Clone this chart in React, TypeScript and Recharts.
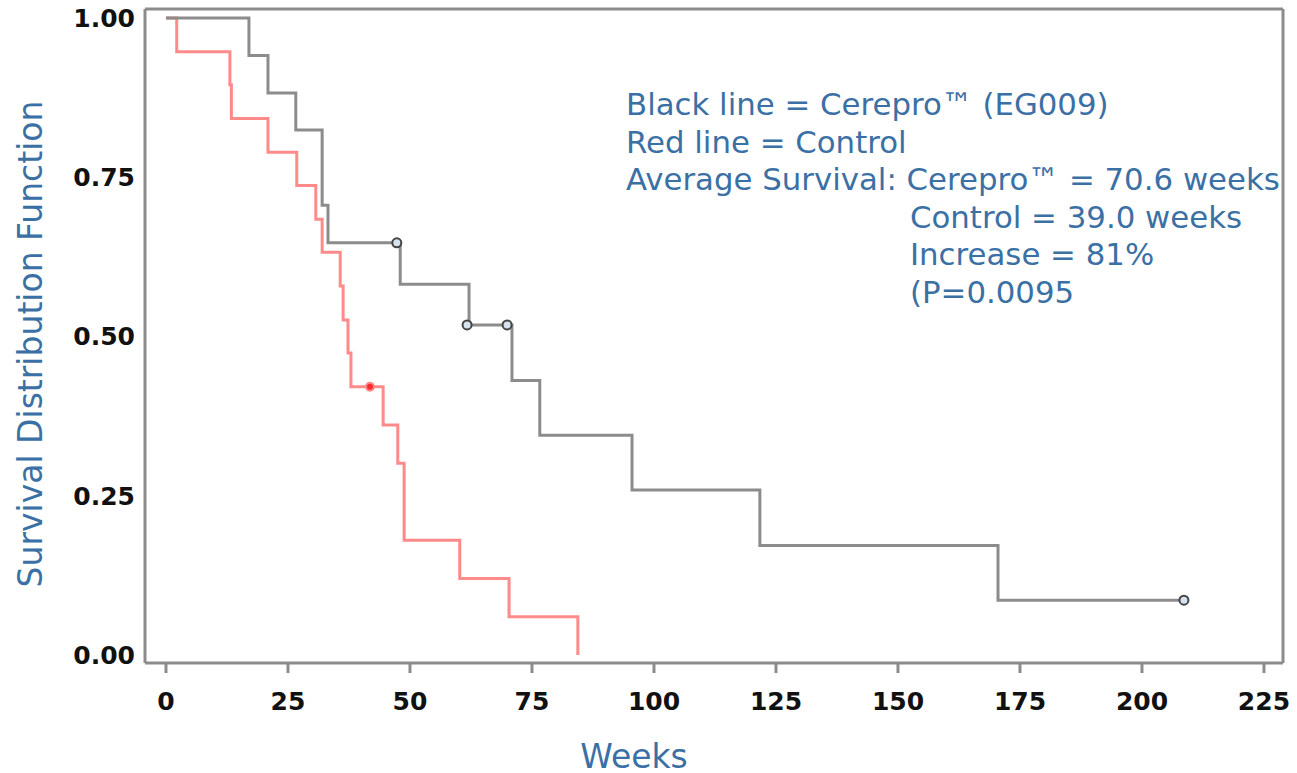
import React from "react";
import { ComposedChart, Line, Scatter, XAxis, YAxis, ReferenceLine } from "recharts";

// Kaplan-Meier steps
const cereproWeeks = [0, 17, 20.9, 26.6, 32, 33.2, 48, 62.1, 70.9, 76.6, 95.5, 121.7, 170.5, 208.6];
const cereproSurvival = [1.0, 0.941, 0.882, 0.824, 0.706, 0.647, 0.582, 0.518, 0.431, 0.345, 0.259, 0.172, 0.086, 0.086];

const controlWeeks = [0, 2.2, 13.1, 13.4, 20.9, 26.8, 30.7, 32, 35.7, 36.3, 37.3, 37.9, 44.5, 47.5, 48.8, 60.2, 70.3, 84.4];
const controlSurvival = [1.0, 0.947, 0.895, 0.842, 0.789, 0.737, 0.684, 0.632, 0.579, 0.526, 0.474, 0.421, 0.361, 0.301, 0.18, 0.12, 0.06, 0.0];

// censored observations
const cereproCensorWeeks = [47.3, 61.7, 69.9, 208.6];
const cereproCensorSurvival = [0.647, 0.518, 0.518, 0.086];
const controlCensorWeeks = [41.8];
const controlCensorSurvival = [0.421];

const weekTicks = [0, 25, 50, 75, 100, 125, 150, 175, 200, 225];
const survivalTicks = [0, 0.25, 0.5, 0.75, 1];

const legendLines = [
  "Black line = Cerepro™ (EG009)",
  "Red line = Control",
  "Average Survival: Cerepro™ = 70.6 weeks",
];
const statsLines = ["Control = 39.0 weeks", "Increase = 81%", "(P=0.0095"];

const X_MIN = -4.3;
const X_MAX = 228.9;
const Y_MIN = -0.0126;
const Y_MAX = 1.014;

const AXIS = "#8c8c8c";
const BLUE = "#3b70a5";

const toPoints = (weeks: number[], surv: number[]) =>
  weeks.map((week, i) => ({ week, survival: surv[i] }));

const tickStyle = {
  fill: "#111",
  fontSize: 25,
  fontWeight: 700,
  fontFamily: "DejaVu Sans",
};

export default function App() {
  const cerepro = toPoints(cereproWeeks, cereproSurvival);
  const control = toPoints(controlWeeks, controlSurvival);
  const cereproCensored = toPoints(cereproCensorWeeks, cereproCensorSurvival);
  const controlCensored = toPoints(controlCensorWeeks, controlCensorSurvival);

  return (
    <div style={{ position: "absolute", left: 0, top: 0, width: 1297, height: 773, background: "#fff" }}>
      <ComposedChart width={1297} height={773} margin={{ top: 9, right: 14, bottom: 0, left: 0 }}>
        <XAxis
          type="number"
          dataKey="week"
          domain={[X_MIN, X_MAX]}
          ticks={weekTicks}
          allowDataOverflow
          height={110}
          stroke={AXIS}
          strokeWidth={3}
          tickSize={10}
          tickMargin={19}
          tick={tickStyle}
        />
        <YAxis
          type="number"
          domain={[Y_MIN, Y_MAX]}
          ticks={survivalTicks}
          allowDataOverflow
          width={145}
          stroke={AXIS}
          strokeWidth={3}
          tickLine={false}
          tickSize={6}
          tickMargin={4}
          tick={tickStyle}
          tickFormatter={(v: number) => v.toFixed(2)}
        />
        <ReferenceLine y={Y_MAX} stroke={AXIS} strokeWidth={3} />
        <ReferenceLine x={X_MAX} stroke={AXIS} strokeWidth={3} />
        <Line
          data={control}
          dataKey="survival"
          type="stepAfter"
          stroke="#ff8a8a"
          strokeWidth={3}
          dot={false}
          isAnimationActive={false}
        />
        <Line
          data={cerepro}
          dataKey="survival"
          type="stepAfter"
          stroke="#8c8c8c"
          strokeWidth={3}
          dot={false}
          isAnimationActive={false}
        />
        <Scatter
          data={controlCensored}
          dataKey="survival"
          isAnimationActive={false}
          shape={(p: any) => <circle cx={p.cx} cy={p.cy} r={4} fill="#ff2a2a" stroke="#ff8a8a" strokeWidth={2} />}
        />
        <Scatter
          data={cereproCensored}
          dataKey="survival"
          isAnimationActive={false}
          shape={(p: any) => <circle cx={p.cx} cy={p.cy} r={4.5} fill="#d6e2ee" stroke="#444" strokeWidth={2} />}
        />
      </ComposedChart>

      <div
        style={{
          position: "absolute",
          left: 626,
          top: 86,
          fontFamily: "DejaVu Sans",
          fontSize: 30.8,
          lineHeight: "37.5px",
          color: BLUE,
          whiteSpace: "pre",
        }}
      >
        {legendLines.map((t) => (
          <div key={t}>{t}</div>
        ))}
        {statsLines.map((t) => (
          <div key={t} style={{ paddingLeft: 284 }}>
            {t}
          </div>
        ))}
      </div>

      <div
        style={{
          position: "absolute",
          left: 30,
          top: 344,
          transform: "translate(-50%, -50%) rotate(-90deg)",
          fontFamily: "DejaVu Sans",
          fontSize: 33,
          color: BLUE,
          whiteSpace: "nowrap",
        }}
      >
        Survival Distribution Function
      </div>
      <div
        style={{
          position: "absolute",
          left: 634,
          top: 756,
          transform: "translate(-50%, -50%)",
          fontFamily: "DejaVu Sans",
          fontSize: 33,
          color: BLUE,
          whiteSpace: "nowrap",
        }}
      >
        Weeks
      </div>
    </div>
  );
}
